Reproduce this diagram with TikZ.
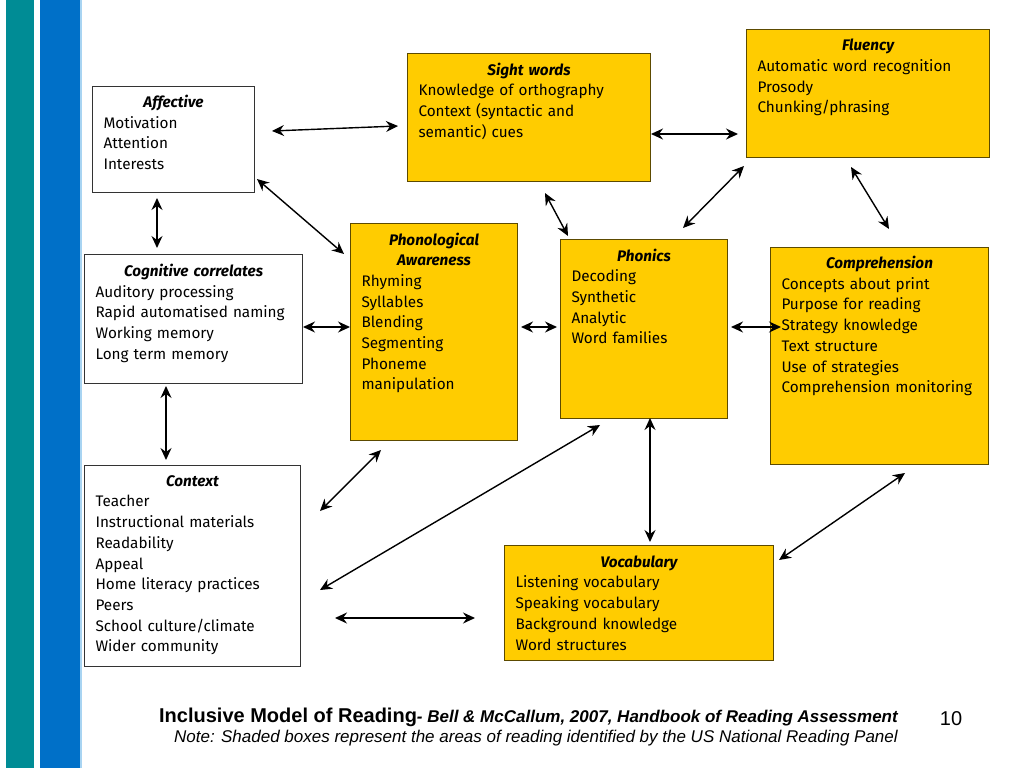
\documentclass[tikz,border=0pt]{standalone}
\usepackage{fontspec}
\setmainfont{Fira Sans}
\newfontfamily\footfont{Liberation Sans}
\usetikzlibrary{arrows.meta,calc}
\definecolor{yfill}{HTML}{FFCC00}
\definecolor{ydraw}{HTML}{5C4A00}
\definecolor{wdraw}{HTML}{333333}
\definecolor{stripeteal}{HTML}{008C95}
\definecolor{stripeblue}{HTML}{0070C8}
\definecolor{stripelight}{HTML}{A8D4F2}
\newcommand\boxtitle[1]{\makebox[\linewidth][c]{\rule{0pt}{12pt}\bfseries\itshape #1}}
\begin{document}
\begin{tikzpicture}[x=1pt,y=-1pt,
  ybox/.style={draw=ydraw, fill=yfill, line width=1pt, anchor=north west, inner sep=0pt},
  wbox/.style={draw=wdraw, fill=white, line width=1pt, anchor=north west, inner sep=0pt},
  txt/.style={anchor=north, inner sep=0pt, align=left, font=\fontsize{15.3}{20.7}\selectfont},
  arr/.style={{Stealth[length=12pt,width=11pt,inset=4pt]}-{Stealth[length=12pt,width=11pt,inset=4pt]}, line width=1.4pt, black}
]
\useasboundingbox (0,0) rectangle (1024,768);
\fill[white] (0,0) rectangle (1024,768);
% stripes
\fill[stripeteal] (6,0) rectangle (34,768);
\fill[stripeblue] (40,0) rectangle (80,768);
\fill[stripelight] (80,0) rectangle (82,768);

% boxes
\node[wbox, minimum width=162, minimum height=106] (aff) at (92,86) {};
\node[txt, text width=140] at ($(aff.north)+(0,9)$) {\boxtitle{Affective}\\Motivation\\Attention\\Interests};

\node[wbox, minimum width=218, minimum height=129] (cog) at (84,254) {};
\node[txt, text width=196] at ($(cog.north)+(0,10)$) {\boxtitle{Cognitive correlates}\\Auditory processing\\Rapid automatised naming\\Working memory\\Long term memory};

\node[wbox, minimum width=216, minimum height=201] (ctx) at (84,465) {};
\node[txt, text width=194] at ($(ctx.north)+(0,9)$) {\boxtitle{Context}\\Teacher\\Instructional materials\\Readability\\Appeal\\Home literacy practices\\Peers\\School culture/climate\\Wider community};

\node[ybox, minimum width=243, minimum height=128] (sight) at (407,53) {};
\node[txt, text width=221] at ($(sight.north)+(0,9.5)$) {\boxtitle{Sight words}\\Knowledge of orthography\\Context (syntactic and\\semantic) cues};

\node[ybox, minimum width=167, minimum height=217] (phon) at (350,223) {};
\node[txt, text width=145] at ($(phon.north)+(0,9.5)$) {\boxtitle{Phonological}\\\boxtitle{Awareness}\\Rhyming\\Syllables\\Blending\\Segmenting\\Phoneme\\manipulation};

\node[ybox, minimum width=167, minimum height=179] (phx) at (560,239) {};
\node[txt, text width=145] at ($(phx.north)+(0,9.5)$) {\boxtitle{Phonics}\\Decoding\\Synthetic\\Analytic\\Word families};

\node[ybox, minimum width=243, minimum height=128] (flu) at (746,29) {};
\node[txt, text width=221] at ($(flu.north)+(0,9.5)$) {\boxtitle{Fluency}\\Automatic word recognition\\Prosody\\Chunking/phrasing};

\node[ybox, minimum width=218, minimum height=217] (comp) at (770,247) {};
\node[txt, text width=196] at ($(comp.north)+(0,9)$) {\boxtitle{Comprehension}\\Concepts about print\\Purpose for reading\\Strategy knowledge\\Text structure\\Use of strategies\\Comprehension monitoring};

\node[ybox, minimum width=269, minimum height=115] (voc) at (504,545) {};
\node[txt, text width=247] at ($(voc.north)+(0,10)$) {\boxtitle{Vocabulary}\\Listening vocabulary\\Speaking vocabulary\\Background knowledge\\Word structures};

% arrow end points
\coordinate (affS1) at (272,131);   \coordinate (sightA) at (398,126);
\coordinate (affP1) at (257,179);   \coordinate (phonA) at (344,254);
\coordinate (affC1) at (157,198);   \coordinate (cogA) at (157,248);
\coordinate (cogP1) at (303,327);   \coordinate (phonC) at (350,327);
\coordinate (cogX1) at (166,386);   \coordinate (ctxC) at (166,460);
\coordinate (phonX1) at (381,450);  \coordinate (ctxP) at (320,511);
\coordinate (ctxH1) at (320,590);   \coordinate (phxX) at (600,425);
\coordinate (ctxV1) at (335,618);   \coordinate (vocX) at (475,618);
\coordinate (phxV1) at (650,418);   \coordinate (vocH) at (650,542);
\coordinate (vocC1) at (779,560);   \coordinate (compV) at (905,473);
\coordinate (phonH1) at (521,327);  \coordinate (phxP) at (557,327);
\coordinate (phxC1) at (731,327);   \coordinate (compH) at (781,327);
\coordinate (sightH1) at (545,193); \coordinate (phxS) at (568,236);
\coordinate (sightF1) at (651,134); \coordinate (fluS) at (738,134);
\coordinate (phxF1) at (683,228);   \coordinate (fluH) at (744,166);
\coordinate (fluC1) at (851,167);   \coordinate (compF) at (889,229);

\draw[arr] (affS1) -- (sightA);
\draw[arr] (affP1) -- (phonA);
\draw[arr] (affC1) -- (cogA);
\draw[arr] (cogP1) -- (phonC);
\draw[arr] (cogX1) -- (ctxC);
\draw[arr] (phonX1) -- (ctxP);
\draw[arr] (ctxH1) -- (phxX);
\draw[arr] (ctxV1) -- (vocX);
\draw[arr] (phxV1) -- (vocH);
\draw[arr] (vocC1) -- (compV);
\draw[arr] (phonH1) -- (phxP);
\draw[arr] (phxC1) -- (compH);
\draw[arr] (sightH1) -- (phxS);
\draw[arr] (sightF1) -- (fluS);
\draw[arr] (phxF1) -- (fluH);
\draw[arr] (fluC1) -- (compF);

% footer
\node[anchor=base east, inner sep=0pt, font=\footfont] (cap1) at (898,722) {{\fontsize{20}{23}\selectfont\bfseries Inclusive Model of Reading}{\fontsize{17}{20}\selectfont\bfseries\itshape- Bell \& McCallum, 2007, Handbook of Reading Assessment}};
\node[anchor=base east, inner sep=0pt, font=\footfont\fontsize{17}{20}\selectfont\itshape] (cap2) at (898,742) {Note: Shaded boxes represent the areas of reading identified by the US National Reading Panel};
\node[anchor=base, inner sep=0pt, font=\footfont\fontsize{20}{23}\selectfont] (pg) at (951,725) {10};
\end{tikzpicture}
\end{document}
